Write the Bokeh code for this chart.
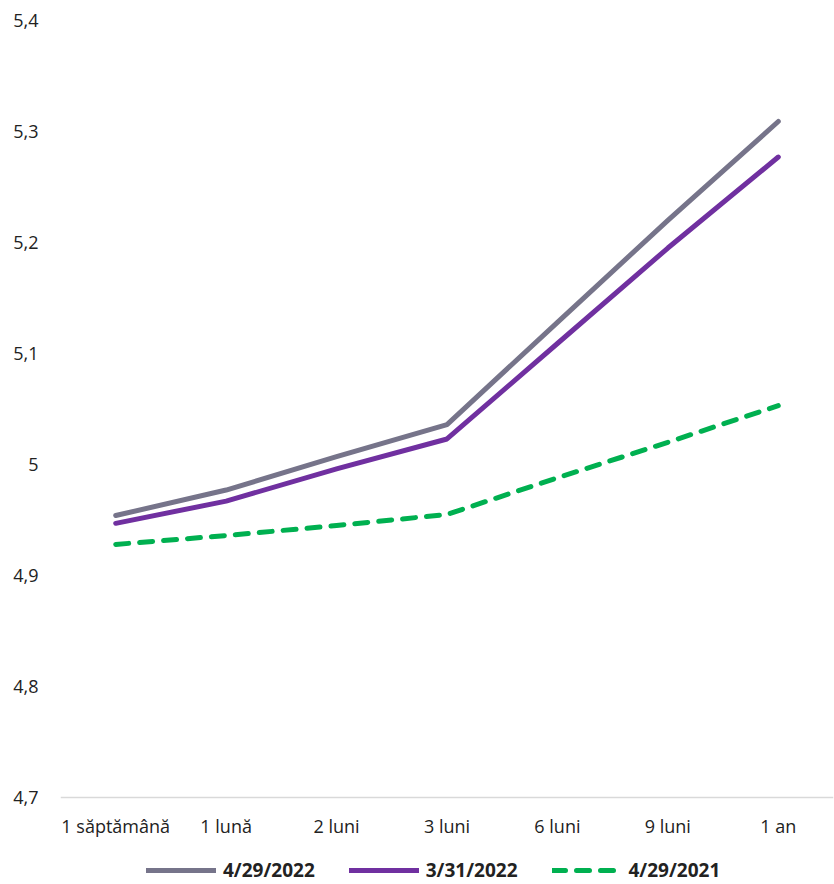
from bokeh.plotting import figure
from bokeh.models import FactorRange, Range1d, FixedTicker, CustomJSTickFormatter, Legend, LegendItem
from bokeh.embed import file_html
from bokeh.resources import INLINE

categories = ["1 săptămână", "1 lună", "2 luni", "3 luni", "6 luni", "9 luni", "1 an"]
series_names = ["4/29/2022", "3/31/2022", "4/29/2021"]
s_2022_04 = [4.954, 4.977, 5.007, 5.036, 5.128, 5.220, 5.309]
s_2022_03 = [4.947, 4.967, 4.996, 5.023, 5.109, 5.195, 5.277]
s_2021_04 = [4.928, 4.936, 4.945, 4.955, 4.988, 5.020, 5.053]
y_ticks = [4.7, 4.8, 4.9, 5.0, 5.1, 5.2, 5.3, 5.4]
y_min, y_max = 4.7, 5.4

FONT = "Open Sans"
TXT = "#222222"

# frame: axis baseline at 797 px, top at 20 px; extra space below baseline holds labels + legend
px_per_unit = 777 / (y_max - y_min)
y_bottom = y_min - 87 / px_per_unit

p = figure(x_range=FactorRange(*categories, range_padding=0),
           y_range=Range1d(y_bottom, y_max),
           frame_width=773, frame_height=864,
           min_border_left=60, min_border_right=1, min_border_top=20, min_border_bottom=0,
           output_backend="svg", toolbar_location=None)
p.outline_line_color = None
p.xgrid.visible = False
p.ygrid.visible = False
p.background_fill_color = "white"

r1 = p.line(categories, s_2022_04, line_color="#76748A", line_width=5, line_cap="round", line_join="round")
r2 = p.line(categories, s_2022_03, line_color="#7030A0", line_width=5, line_cap="round", line_join="round")
r3 = p.line(categories, s_2021_04, line_color="#00B050", line_width=5, line_cap="round", line_join="round",
            line_dash="13 11")

p.yaxis.ticker = FixedTicker(ticks=y_ticks)
p.yaxis.formatter = CustomJSTickFormatter(code="""
const v = Math.round(tick * 10) / 10;
return v.toString().replace('.', ',');
""")
for ax in (p.xaxis, p.yaxis):
    ax.axis_label = None
    ax.axis_label_standoff = 0
    ax.major_tick_line_color = None
    ax.minor_tick_line_color = None
    ax.major_tick_out = 0
    ax.major_tick_in = 0
    ax.minor_tick_out = 0
    ax.minor_tick_in = 0
    ax.major_label_text_font = FONT
    ax.major_label_text_font_size = "18px"
    ax.major_label_text_color = TXT

p.yaxis.axis_line_color = None
p.yaxis.major_label_standoff = 22
p.xaxis.axis_line_color = "#D9D9D9"
p.xaxis.axis_line_width = 1.5
p.xaxis.major_label_standoff = 16
p.xaxis.fixed_location = y_min

legend = Legend(items=[LegendItem(label=series_names[0], renderers=[r1]),
                       LegendItem(label=series_names[1], renderers=[r2]),
                       LegendItem(label=series_names[2], renderers=[r3])],
                orientation="horizontal", location=(86, 1),
                glyph_width=70, glyph_height=18, spacing=34, label_standoff=7,
                padding=0, margin=0, border_line_color=None, background_fill_alpha=0,
                label_text_font=FONT, label_text_font_size="19px", label_text_font_style="bold",
                label_text_color=TXT)
p.add_layout(legend, "center")

open("out.html", "w").write(file_html(p, INLINE))
